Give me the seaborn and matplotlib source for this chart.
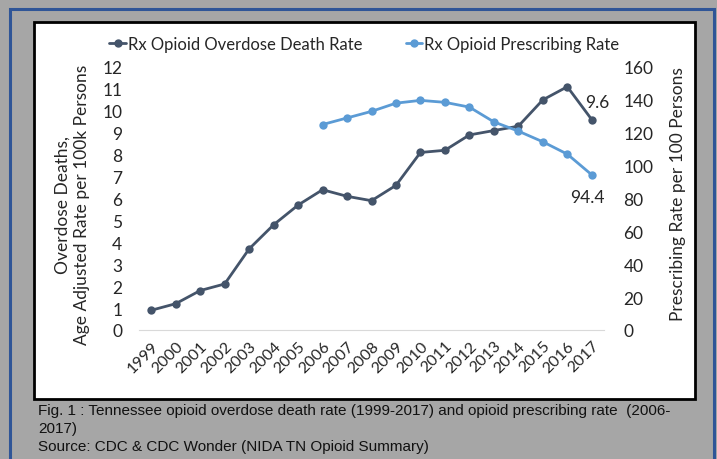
import numpy as np
import pandas as pd
import matplotlib
matplotlib.use("Agg")
import matplotlib.pyplot as plt
import seaborn as sns
from matplotlib.patches import Rectangle
from matplotlib.lines import Line2D

sns.set_style("white")
plt.rcParams['font.family'] = ['Lato', 'DejaVu Sans']

# data
years = [1999, 2000, 2001, 2002, 2003, 2004, 2005, 2006, 2007, 2008,
         2009, 2010, 2011, 2012, 2013, 2014, 2015, 2016, 2017]
death_rate = [0.9, 1.2, 1.8, 2.1, 3.7, 4.8, 5.7, 6.4, 6.1, 5.9,
              6.6, 8.1, 8.2, 8.9, 9.1, 9.3, 10.5, 11.1, 9.6]
rx_years = [2006, 2007, 2008, 2009, 2010, 2011, 2012, 2013, 2014, 2015, 2016, 2017]
rx_rate = [125.0, 129.0, 133.0, 138.0, 139.7, 138.5, 135.6, 126.6, 121.0, 114.5, 107.0, 94.4]

DEATH_COL = "#44546A"
RX_COL = "#5B9BD5"

df_d = pd.DataFrame({"idx": [years.index(y) for y in years], "rate": death_rate})
df_r = pd.DataFrame({"idx": [years.index(y) for y in rx_years], "rate": rx_rate})

fig = plt.figure(figsize=(7.17, 4.6), dpi=100)
fig.patch.set_facecolor("#a6a6a6")
# outer blue border + white panel
fig.patches.append(Rectangle((10/717, -0.05), 704/717, 1 - 10/460 + 0.05, transform=fig.transFigure,
                             fill=False, edgecolor="#2F5597", linewidth=2.2, zorder=-10))
fig.patches.append(Rectangle((34/717, 1 - 400/460), 661/717, 377/460, transform=fig.transFigure,
                             facecolor="white", edgecolor="black", linewidth=2, zorder=-10))

ax = fig.add_axes([139/717, 1 - 331/460, 465/717, 263/460])
ax.set_facecolor("none")
ax2 = ax.twinx()
ax2.set_facecolor("none")

sns.lineplot(data=df_d, x="idx", y="rate", ax=ax, color=DEATH_COL, marker="o",
             markersize=6, markeredgewidth=0, linewidth=2)
sns.lineplot(data=df_r, x="idx", y="rate", ax=ax2, color=RX_COL, marker="o",
             markersize=6, markeredgewidth=0, linewidth=2)

ax.set_ylim(0, 12)
ax2.set_ylim(0, 160)
ax.set_xlim(-0.5, len(years) - 0.5)
ax.set_yticks(range(0, 13))
ax2.set_yticks(range(0, 161, 20))
ax.set_xticks(range(len(years)))
ax.set_xticklabels([str(y) for y in years], rotation=45, ha="right", rotation_mode="anchor", fontsize=11.5)
ax.set_xticks(np.arange(-0.5, len(years), 1), minor=True)
ax.tick_params(axis="x", which="major", length=0, pad=6)
ax.tick_params(axis="x", which="minor", length=5, color="#d9d9d9")
ax.tick_params(axis="y", length=0, pad=12, labelsize=12.5, colors="#262626")
ax2.tick_params(axis="y", length=0, pad=14, labelsize=12.5, colors="#262626")

for a in (ax, ax2):
    for s in a.spines.values():
        s.set_visible(False)
ax.spines["bottom"].set_visible(True)
ax.spines["bottom"].set_color("#d9d9d9")

ax.set_xlabel("")
ax.set_ylabel("Overdose Deaths,\nAge Adjusted Rate per 100k Persons", fontsize=12.5,
              color="#262626", linespacing=1.25)
ax.yaxis.set_label_coords(-0.105, 0.48)
ax2.set_ylabel("Prescribing Rate per 100 Persons", fontsize=12.5, color="#262626")
ax2.yaxis.set_label_coords(1.142, 0.52)

# data labels
ax.annotate(f"{death_rate[-1]:.1f}", (len(years) - 1, death_rate[-1]), xytext=(4, 7),
            textcoords="offset points", ha="center", va="bottom", fontsize=12.5, color="#262626")
ax2.annotate(f"{rx_rate[-1]:.1f}", (len(years) - 1, rx_rate[-1]), xytext=(-3, -10),
             textcoords="offset points", ha="center", va="top", fontsize=12.5, color="#262626")

handles = [Line2D([], [], color=DEATH_COL, marker="o", markersize=5, linewidth=2),
           Line2D([], [], color=RX_COL, marker="o", markersize=5, linewidth=2)]
fig.legend(handles, ["Rx Opioid Overdose Death Rate", "Rx Opioid Prescribing Rate"],
           loc="center", bbox_to_anchor=(0.508, 1 - 45/460), ncol=2, frameon=False,
           fontsize=12, handlelength=1.0, handletextpad=0.1, columnspacing=2.6,
           labelcolor="#262626")

cap_font = ['Liberation Sans Narrow', 'Liberation Sans', 'DejaVu Sans']
fig.text(38/717, 1 - 411/460, "Fig. 1 : Tennessee opioid overdose death rate (1999-2017) and opioid prescribing rate  (2006-",
         fontsize=11, family=cap_font, va="center", color="#111111")
fig.text(38/717, 1 - 429/460, "2017)", fontsize=11, family=cap_font, va="center", color="#111111")
fig.text(38/717, 1 - 447/460, "Source: CDC & CDC Wonder (NIDA TN Opioid Summary)",
         fontsize=11, family=cap_font, va="center", color="#111111")

fig.savefig("out.png", dpi=100, facecolor=fig.get_facecolor())
